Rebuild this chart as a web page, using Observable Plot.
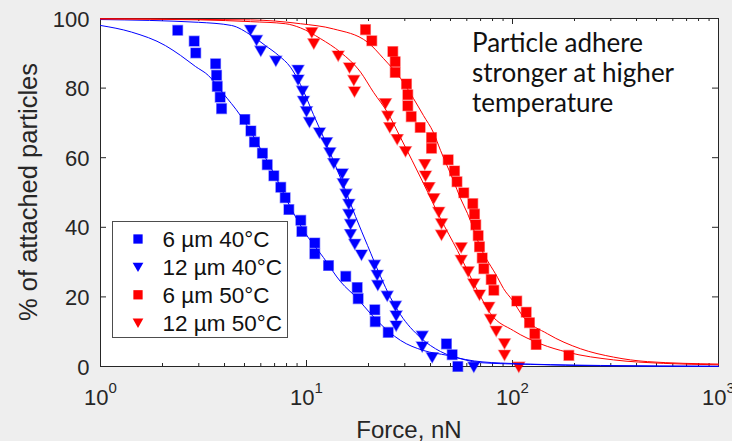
<!DOCTYPE html>
<html>
<head>
<meta charset="utf-8">
<script src="https://cdn.jsdelivr.net/npm/d3@7"></script>
<script src="https://cdn.jsdelivr.net/npm/@observablehq/plot@0.6"></script>
<style>
  html, body { margin: 0; padding: 0; background: #eeeeee; }
  #chart { width: 732px; height: 441px; overflow: hidden; }
  svg { display: block; }
</style>
</head>
<body>
<div id="chart"></div>
<script>
// ---------- data ----------
const xTicks = [1, 10, 100, 1000];
const xTickLabels = ["10^0", "10^1", "10^2", "10^3"];
const xMinorTicks = [2, 3, 4, 5, 6, 7, 8, 9, 20, 30, 40, 50, 60, 70, 80, 90, 200, 300, 400, 500, 600, 700, 800, 900];
const yTicks = [0, 20, 40, 60, 80, 100];
const seriesNames = ["6 µm 40°C", "12 µm 40°C", "6 µm 50°C", "12 µm 50°C"];
const annotationLines = ["Particle adhere", "stronger at higher", "temperature"];
const xLabel = "Force, nN";
const yLabel = "% of attached particles";

// 6 µm 40°C (blue squares)
const sq40Force = [2.37, 2.85, 2.90, 3.62, 3.66, 3.69, 3.81, 3.87, 5.02, 5.37, 5.59, 6.11, 6.45, 6.94, 7.50, 7.88, 8.21, 9.38, 9.49, 10.97, 10.97, 12.79, 15.51, 17.63, 17.82, 21.46, 21.56, 24.93, 47.8, 50.97, 54.27];
const sq40Pct   = [96.6, 93.5, 90.1, 87.0, 83.7, 80.5, 77.4, 74.1, 71.0, 67.7, 64.5, 61.3, 58.0, 54.8, 51.5, 48.5, 45.1, 42.0, 38.8, 35.5, 32.4, 29.0, 25.9, 22.7, 19.5, 16.3, 12.9, 9.8, 6.5, 3.4, 0];
// 12 µm 40°C (blue triangles)
const tri40Force = [5.35, 5.72, 6.00, 7.10, 9.1, 9.1, 9.56, 9.67, 10.0, 10.34, 11.56, 12.51, 12.98, 13.57, 14.91, 15.08, 15.55, 16.05, 16.05, 16.36, 16.36, 17.16, 18.49, 21.38, 22.04, 22.19, 24.65, 27.04, 27.25, 27.25, 36.45, 36.45, 40.75, 64.9];
const tri40Pct   = [96.8, 93.9, 90.8, 87.9, 85.3, 82.5, 79.3, 76.4, 73.4, 70.3, 67.3, 64.5, 61.6, 58.5, 55.5, 52.7, 49.7, 46.8, 43.9, 41.0, 38.1, 35.3, 32.2, 29.3, 26.4, 23.5, 20.4, 17.5, 14.7, 11.8, 8.9, 5.8, 2.7, 0];
// 6 µm 50°C (red squares)
const sq50Force = [19.34, 20.75, 26.24, 26.96, 26.96, 30.58, 31.03, 31.03, 32.24, 35.64, 40.45, 40.45, 48.74, 52.30, 53.78, 58.0, 64.15, 65.4, 66.35, 68.16, 69.16, 71.28, 72.57, 78.82, 81.14, 104.9, 116.6, 120.9, 128.3, 130.3, 187.7];
const sq50Pct   = [96.8, 93.6, 90.5, 87.6, 84.5, 81.2, 78.1, 74.9, 71.8, 68.7, 65.8, 62.7, 59.4, 56.2, 53.1, 49.9, 46.8, 43.8, 40.7, 37.6, 34.4, 31.2, 28.1, 25.0, 21.9, 18.8, 15.6, 12.6, 9.4, 6.3, 3.2];
// 12 µm 50°C (red triangles)
const tri50Force = [10.61, 10.85, 14.25, 16.17, 16.97, 17.10, 24.18, 24.81, 25.37, 27.56, 30.24, 37.52, 37.82, 39.33, 41.50, 43.87, 45.22, 45.22, 56.36, 56.36, 60.95, 64.88, 69.16, 76.74, 78.2, 83.36, 91.45, 91.45, 107.3];
const tri50Pct   = [96.1, 92.9, 89.4, 86.0, 82.4, 79.1, 75.7, 72.1, 68.8, 65.4, 61.9, 58.2, 54.9, 51.6, 48.4, 44.5, 41.2, 37.9, 34.3, 30.7, 27.4, 23.9, 20.7, 17.2, 13.7, 10.3, 6.7, 3.4, 0];

// fitted curves
const fitSq40Force = [1, 1.414, 2.068, 2.445, 2.892, 3.344, 3.910, 4.782, 5.783, 7.233, 8.362, 9.670, 12.09, 14.62, 17.69, 20.45, 25.00, 28.60, 36.98, 48.36, 69.95, 122.3, 267.4, 1000];
const fitSq40Pct   = [98.0, 96.1, 92.2, 89.4, 86.2, 83.6, 78.7, 72.1, 64.1, 53.4, 45.7, 39.1, 31.3, 24.4, 19.5, 15.2, 10.1, 7.5, 4.6, 3.2, 1.1, 0.6, 0.2, 0.05];
const fitTri40Force = [1, 2.991, 4.324, 5.408, 6.324, 7.313, 8.362, 9.352, 10.81, 12.65, 14.14, 15.47, 17.30, 19.78, 22.87, 25.57, 28.60, 35.76, 44.73, 59.14, 87.44, 267.4, 1000];
const fitTri40Pct   = [99.7, 98.9, 98.0, 95.1, 92.2, 89.4, 86.0, 81.0, 72.4, 63.2, 56.3, 50.6, 43.1, 34.8, 25.9, 19.8, 14.9, 8.3, 4.3, 2.0, 1.0, 0.3, 0.05];
const fitSq50Force = [1, 5.349, 9.352, 13.52, 19.78, 23.65, 28.60, 33.07, 36.98, 41.35, 44.73, 51.70, 55.92, 60.46, 69.95, 84.57, 90.43, 100, 113.1, 147.9, 213.8, 309.3, 452.0, 1000];
const fitSq50Pct   = [99.9, 99.6, 98.5, 97.0, 93.2, 88.5, 82.8, 77.0, 72.1, 67.2, 62.1, 53.4, 48.3, 44.0, 34.2, 25.6, 22.4, 19.0, 14.2, 9.4, 5.1, 2.7, 1.4, 0.7];
const fitTri50Force = [1, 3.059, 5.349, 7.908, 9.352, 11.70, 14.62, 18.29, 21.15, 24.73, 28.60, 36.98, 44.73, 54.08, 67.62, 78.19, 101.1, 136.8, 184.9, 309.3, 540.8, 1000];
const fitTri50Pct   = [99.9, 99.6, 99.1, 98.5, 97.3, 94.2, 90.3, 84.6, 78.8, 73.0, 65.8, 52.6, 42.5, 33.3, 21.8, 15.2, 10.3, 6.5, 4.1, 1.9, 0.9, 0.5];

// ---------- build ----------
const rows = (fs, ps) => fs.map((f, i) => ({force: f, pct: ps[i]}));
const BLUE = "#0000ff", RED = "#ff0000", INK = "#262626";
const FONT = "'Liberation Sans', Arial, Helvetica, sans-serif";
const W = 732, H = 441, mL = 100, mR = 14, mT = 18, mB = 75;
const plotW = W - mL - mR, plotH = H - mT - mB;
const majorLen = 6, minorLen = 3;
const sqR = 5.5, triR = 4.3;
const halo = {strokeOpacity: 0.45, strokeWidth: 1.3};

const chart = Plot.plot({
  width: W, height: H,
  marginLeft: mL, marginRight: mR, marginTop: mT, marginBottom: mB,
  style: {background: "transparent", fontFamily: FONT, fontSize: "22px", color: INK},
  x: {type: "log", domain: [1, 1000]},
  y: {domain: [0, 100]},
  marks: [
    Plot.frame({fill: "white"}),
    Plot.ruleX(xTicks, {insetTop: plotH - majorLen, stroke: INK}),
    Plot.ruleX(xTicks, {insetBottom: plotH - majorLen, stroke: INK}),
    Plot.ruleX(xMinorTicks, {insetTop: plotH - minorLen, stroke: INK}),
    Plot.ruleX(xMinorTicks, {insetBottom: plotH - minorLen, stroke: INK}),
    Plot.ruleY(yTicks, {insetRight: plotW - majorLen, stroke: INK}),
    Plot.ruleY(yTicks, {insetLeft: plotW - majorLen, stroke: INK}),
    Plot.frame({stroke: INK}),
    Plot.axisX({ticks: xTicks, tickSize: 0, tickPadding: 23, tickFormat: d => xTickLabels[xTicks.indexOf(d)], label: null, fontSize: 22, fontFamily: FONT}),
    Plot.axisY({ticks: yTicks, tickSize: 0, tickPadding: 11, label: null, fontSize: 22, fontFamily: FONT, dy: 1}),
    Plot.dot(rows(sq40Force, sq40Pct), {x: "force", y: "pct", symbol: "square", r: sqR, fill: BLUE, stroke: BLUE, ...halo}),
    Plot.dot(rows(tri40Force, tri40Pct), {x: "force", y: "pct", symbol: "triangle", rotate: 180, r: triR, fill: BLUE, stroke: BLUE, ...halo, dy: -1}),
    Plot.dot(rows(sq50Force, sq50Pct), {x: "force", y: "pct", symbol: "square", r: sqR, fill: RED, stroke: RED, ...halo}),
    Plot.dot(rows(tri50Force, tri50Pct), {x: "force", y: "pct", symbol: "triangle", rotate: 180, r: triR, fill: RED, stroke: RED, ...halo, dy: -1}),
    Plot.line(rows(fitSq40Force, fitSq40Pct), {x: "force", y: "pct", stroke: BLUE, strokeWidth: 1, curve: "monotone-x"}),
    Plot.line(rows(fitTri40Force, fitTri40Pct), {x: "force", y: "pct", stroke: BLUE, strokeWidth: 1, curve: "monotone-x"}),
    Plot.line(rows(fitSq50Force, fitSq50Pct), {x: "force", y: "pct", stroke: RED, strokeWidth: 1, curve: "monotone-x"}),
    Plot.line(rows(fitTri50Force, fitTri50Pct), {x: "force", y: "pct", stroke: RED, strokeWidth: 1, curve: "monotone-x"})
  ]
});

chart.setAttribute("font-family", FONT);
chart.style.fontFamily = FONT;
document.getElementById("chart").appendChild(chart);

// superscript exponents on the log tick labels
chart.querySelectorAll('g[aria-label="x-axis tick label"] text').forEach(t => {
  const parts = t.textContent.split("^");
  t.textContent = parts[0];
  const ts = document.createElementNS("http://www.w3.org/2000/svg", "tspan");
  ts.setAttribute("dy", "-12");
  ts.setAttribute("font-size", "15");
  ts.textContent = parts[1];
  t.appendChild(ts);
});

const svg = d3.select(chart);

// axis titles
svg.append("text")
  .attr("x", mL + plotW / 2).attr("y", 438)
  .attr("text-anchor", "middle").attr("font-family", FONT).attr("font-size", 24).attr("fill", INK)
  .text(xLabel);
svg.append("text")
  .attr("transform", `translate(37,${mT + plotH / 2}) rotate(-90)`)
  .attr("text-anchor", "middle").attr("font-family", FONT).attr("font-size", 25.5).attr("fill", INK)
  .text(yLabel);

// annotation
const ann = svg.append("text")
  .attr("text-anchor", "start")
  .attr("font-family", "Lato, 'Open Sans', sans-serif").attr("font-size", 26).attr("fill", "#111");
annotationLines.forEach((line, i) => {
  ann.append("tspan").attr("x", 472).attr("y", 52 + i * 30).text(line);
});

// legend
const lg = svg.append("g").attr("text-anchor", "start").attr("font-family", FONT);
lg.append("rect").attr("x", 112.5).attr("y", 221.5).attr("width", 175).attr("height", 116)
  .attr("fill", "white").attr("stroke", "#4d4d4d").attr("stroke-width", 1);
const legendSyms = [
  {type: d3.symbolSquare, size: 86, fill: BLUE, rot: 0},
  {type: d3.symbolTriangle, size: 50, fill: BLUE, rot: 180},
  {type: d3.symbolSquare, size: 86, fill: RED, rot: 0},
  {type: d3.symbolTriangle, size: 50, fill: RED, rot: 180}
];
seriesNames.forEach((name, i) => {
  const cy = 239 + i * 27.9;
  const s = legendSyms[i];
  lg.append("path")
    .attr("d", d3.symbol(s.type, s.size)())
    .attr("transform", `translate(138,${cy - (s.rot ? 1 : 0)}) rotate(${s.rot})`)
    .attr("fill", s.fill);
  lg.append("text").attr("x", 162.5).attr("y", cy).attr("dy", "0.36em")
    .attr("text-anchor", "start")
    .attr("font-size", 22.5).attr("fill", "#111").text(name);
});
</script>
</body>
</html>
